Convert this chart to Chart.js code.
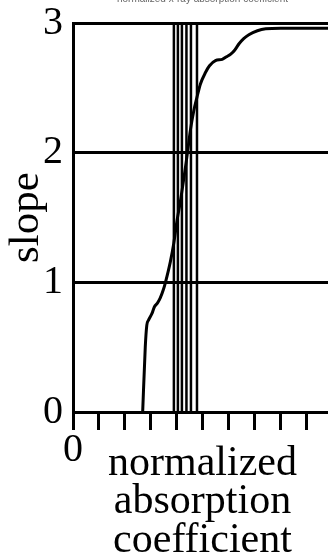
<!DOCTYPE html>
<html>
<head>
<meta charset="utf-8">
<script src="https://cdn.jsdelivr.net/npm/chart.js@4/dist/chart.umd.min.js"></script>
<style>
  html, body { margin: 0; padding: 0; background: #fff; overflow: hidden; }
  .wrap { position: relative; width: 328px; height: 559px; overflow: hidden; }
  #chart { position: absolute; left: 0; top: -7px; }
</style>
</head>
<body>
<div class="wrap"><canvas id="chart" width="332" height="566"></canvas></div>
<script>
// slope curve vs normalized absorption coefficient
const curveX = [0.269, 0.279, 0.285, 0.292, 0.305, 0.314, 0.326, 0.337, 0.350, 0.357, 0.376, 0.389, 0.402, 0.415, 0.442, 0.453, 0.466, 0.479, 0.492, 0.512, 0.527, 0.550, 0.576, 0.593, 0.609, 0.624, 0.641, 0.659, 0.679, 0.712, 0.744, 0.802, 1.0];
const curveY = [0.00, 0.50, 0.67, 0.71, 0.76, 0.81, 0.84, 0.88, 0.95, 1.00, 1.16, 1.30, 1.48, 1.63, 2.00, 2.17, 2.32, 2.43, 2.53, 2.62, 2.67, 2.71, 2.72, 2.74, 2.76, 2.79, 2.84, 2.88, 2.91, 2.94, 2.955, 2.96, 2.96];

// vertical marker lines
const markerX = [0.3895, 0.405, 0.4205, 0.438, 0.4554, 0.4787];
const markerSpan = [0, 3];

const yTicks = [0, 1, 2, 3];
const xLabelText = ['normalized', 'absorption', 'coefficient'];

const serif = 'Liberation Serif, Times New Roman, serif';

const datasets = [{
  data: curveX.map((x, i) => ({ x, y: curveY[i] })),
  borderColor: '#000',
  borderWidth: 3,
  pointRadius: 0,
  cubicInterpolationMode: 'monotone',
}];

markerX.forEach((x) => {
  datasets.push({
    data: markerSpan.map((y) => ({ x, y })),
    borderColor: '#000',
    borderWidth: 2.5,
    pointRadius: 0,
  });
});

new Chart(document.getElementById('chart'), {
  type: 'line',
  data: { datasets },
  options: {
    responsive: false,
    animation: false,
    layout: { padding: 0 },
    plugins: {
      legend: { display: false },
      tooltip: { enabled: false },
      title: {
        display: true,
        text: 'normalized x-ray absorption coefficient',
        fullSize: false,
        color: '#666',
        font: { family: 'Liberation Sans, Arial, sans-serif', size: 10, weight: 'normal', lineHeight: 1.2 },
        padding: { top: -1, bottom: 18 },
      },
    },
    scales: {
      x: {
        type: 'linear',
        min: 0,
        max: 1,
        afterFit: (s) => { s.height = 147; },
        ticks: {
          stepSize: 0.1,
          color: '#000',
          padding: 0,
          maxRotation: 0,
          font: { family: serif, size: 40, lineHeight: 1 },
          callback: (v) => (v === 0 ? '0' : ''),
        },
        grid: { drawOnChartArea: false, drawTicks: true, tickLength: 18, color: '#000', lineWidth: 3 },
        border: { color: '#000', width: 3 },
        title: {
          display: true,
          text: xLabelText,
          color: '#000',
          font: { family: serif, size: 42, lineHeight: 0.917 },
          padding: { top: 0, bottom: -1 },
        },
      },
      y: {
        min: 0,
        max: 3,
        afterFit: (s) => { s.width = 73; },
        afterBuildTicks: (s) => { s.ticks = yTicks.map((value) => ({ value })); },
        ticks: {
          color: '#000',
          padding: 10,
          font: { family: serif, size: 40, lineHeight: 1 },
        },
        grid: { drawTicks: false, color: '#000', lineWidth: 3 },
        border: { color: '#000', width: 3 },
        title: {
          display: true,
          text: 'slope',
          color: '#000',
          font: { family: serif, size: 43, lineHeight: 1 },
          padding: { top: 5, bottom: 0 },
        },
      },
    },
  },
});
</script>
</body>
</html>
